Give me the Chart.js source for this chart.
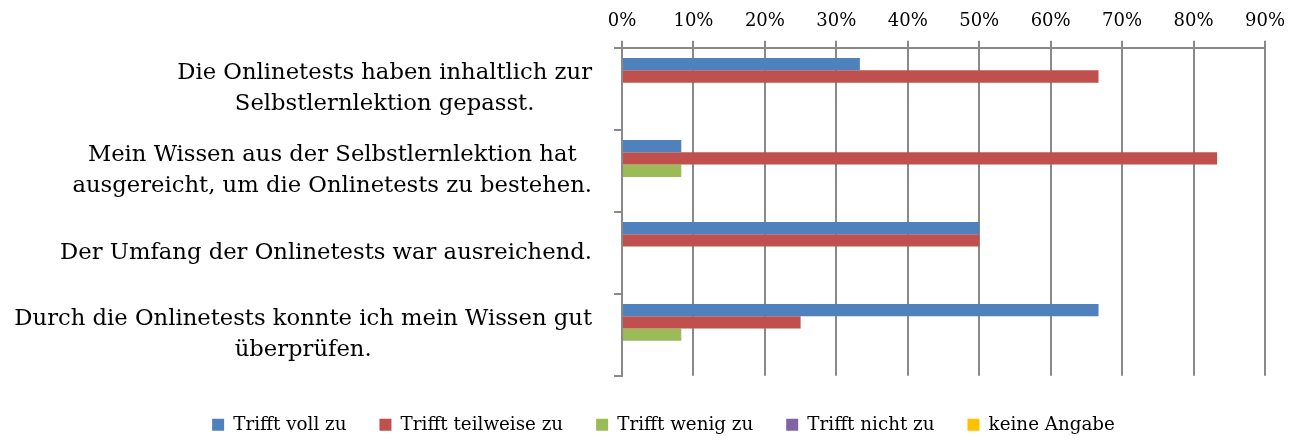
<!DOCTYPE html>
<html>
<head>
<meta charset="utf-8">
<script src="https://cdn.jsdelivr.net/npm/chart.js@4"></script>
<style>
  html, body { margin: 0; padding: 0; background: #fff; }
  #wrap { width: 1299px; height: 440px; }
</style>
</head>
<body>
<div id="wrap"><canvas id="surveyChart" width="1299" height="440"></canvas></div>
<script>
//data
const questions = [
    ['Die Onlinetests haben inhaltlich zur', 'Selbstlernlektion gepasst.'],
    ['Mein Wissen aus der Selbstlernlektion hat', 'ausgereicht, um die Onlinetests zu bestehen.'],
    ['Der Umfang der Onlinetests war ausreichend.'],
    ['Durch die Onlinetests konnte ich mein Wissen gut', 'überprüfen.']
];
const seriesNames = ['Trifft voll zu', 'Trifft teilweise zu', 'Trifft wenig zu', 'Trifft nicht zu', 'keine Angabe'];
const vollZu     = [33.3, 8.3, 50, 66.7];
const teilweise  = [66.7, 83.3, 50, 25];
const wenigZu    = [0, 8.3, 0, 8.3];
const nichtZu    = [0, 0, 0, 0];
const keineAngabe = [0, 0, 0, 0];
const xTicks = [0, 10, 20, 30, 40, 50, 60, 70, 80, 90];

const colors = ['#4F81BD', '#C0504D', '#9BBB59', '#8064A2', '#FFC000'];
const gridGray = '#898989';
const serif = "'DejaVu Serif', 'Liberation Serif', serif";

//draw the wrapped category labels, each block centred on itself and right aligned
const questionLabels = {
    id: 'questionLabels',
    afterDraw(chart) {
        const ctx = chart.ctx;
        const scale = chart.scales.y;
        const rightX = 592;
        const lineH = 31;
        ctx.save();
        ctx.font = '22.7px ' + serif;
        ctx.fillStyle = '#000';
        ctx.textAlign = 'center';
        ctx.textBaseline = 'middle';
        questions.forEach((lines, i) => {
            const cy = scale.getPixelForTick(i);
            const widest = Math.max(...lines.map(l => ctx.measureText(l).width));
            const cx = rightX - widest / 2;
            const y0 = cy - (lines.length - 1) * lineH / 2;
            lines.forEach((l, j) => ctx.fillText(l, cx, y0 + j * lineH));
        });
        ctx.restore();
    }
};

const seriesValues = [vollZu, teilweise, wenigZu, nichtZu, keineAngabe];
const padLeft = 62;

new Chart(document.getElementById('surveyChart').getContext('2d'), {
    type: 'bar',
    data: {
        labels: questions,
        datasets: seriesNames.map((name, i) => ({
            label: name,
            data: seriesValues[i],
            backgroundColor: colors[i],
            borderWidth: 0,
            categoryPercentage: 0.75,
            barPercentage: 1.0
        }))
    },
    options: {
        indexAxis: 'y',
        responsive: false,
        animation: false,
        layout: { padding: { top: 2, right: 34, left: padLeft, bottom: -4 } },
        scales: {
            x: {
                position: 'top',
                min: 0,
                max: 90,
                afterBuildTicks(scale) {
                    scale.ticks = xTicks.map(v => ({ value: v }));
                },
                ticks: {
                    callback: v => v + '%',
                    color: '#000',
                    padding: 9.5,
                    font: { family: serif, size: 18, lineHeight: 1.1 },
                    maxRotation: 0
                },
                grid: { color: gridGray, lineWidth: 2, tickLength: 7 },
                border: { color: gridGray, width: 2 }
            },
            y: {
                offset: true,
                afterFit(scale) { scale.width = 622 - padLeft; },
                ticks: {
                    color: 'rgba(0,0,0,0)',
                    font: { family: serif, size: 22 }
                },
                grid: {
                    offset: true,
                    drawOnChartArea: false,
                    color: gridGray,
                    lineWidth: 2,
                    tickLength: 8
                },
                border: { color: gridGray, width: 2 }
            }
        },
        plugins: {
            legend: {
                position: 'bottom',
                title: { display: true, text: '', padding: 0, font: { size: 7, lineHeight: 1 } },
                labels: {
                    boxWidth: 12,
                    boxHeight: 12,
                    padding: 33,
                    color: '#000',
                    font: { family: serif, size: 18.3 }
                }
            },
            tooltip: { enabled: false }
        }
    },
    plugins: [questionLabels]
});
</script>
</body>
</html>
